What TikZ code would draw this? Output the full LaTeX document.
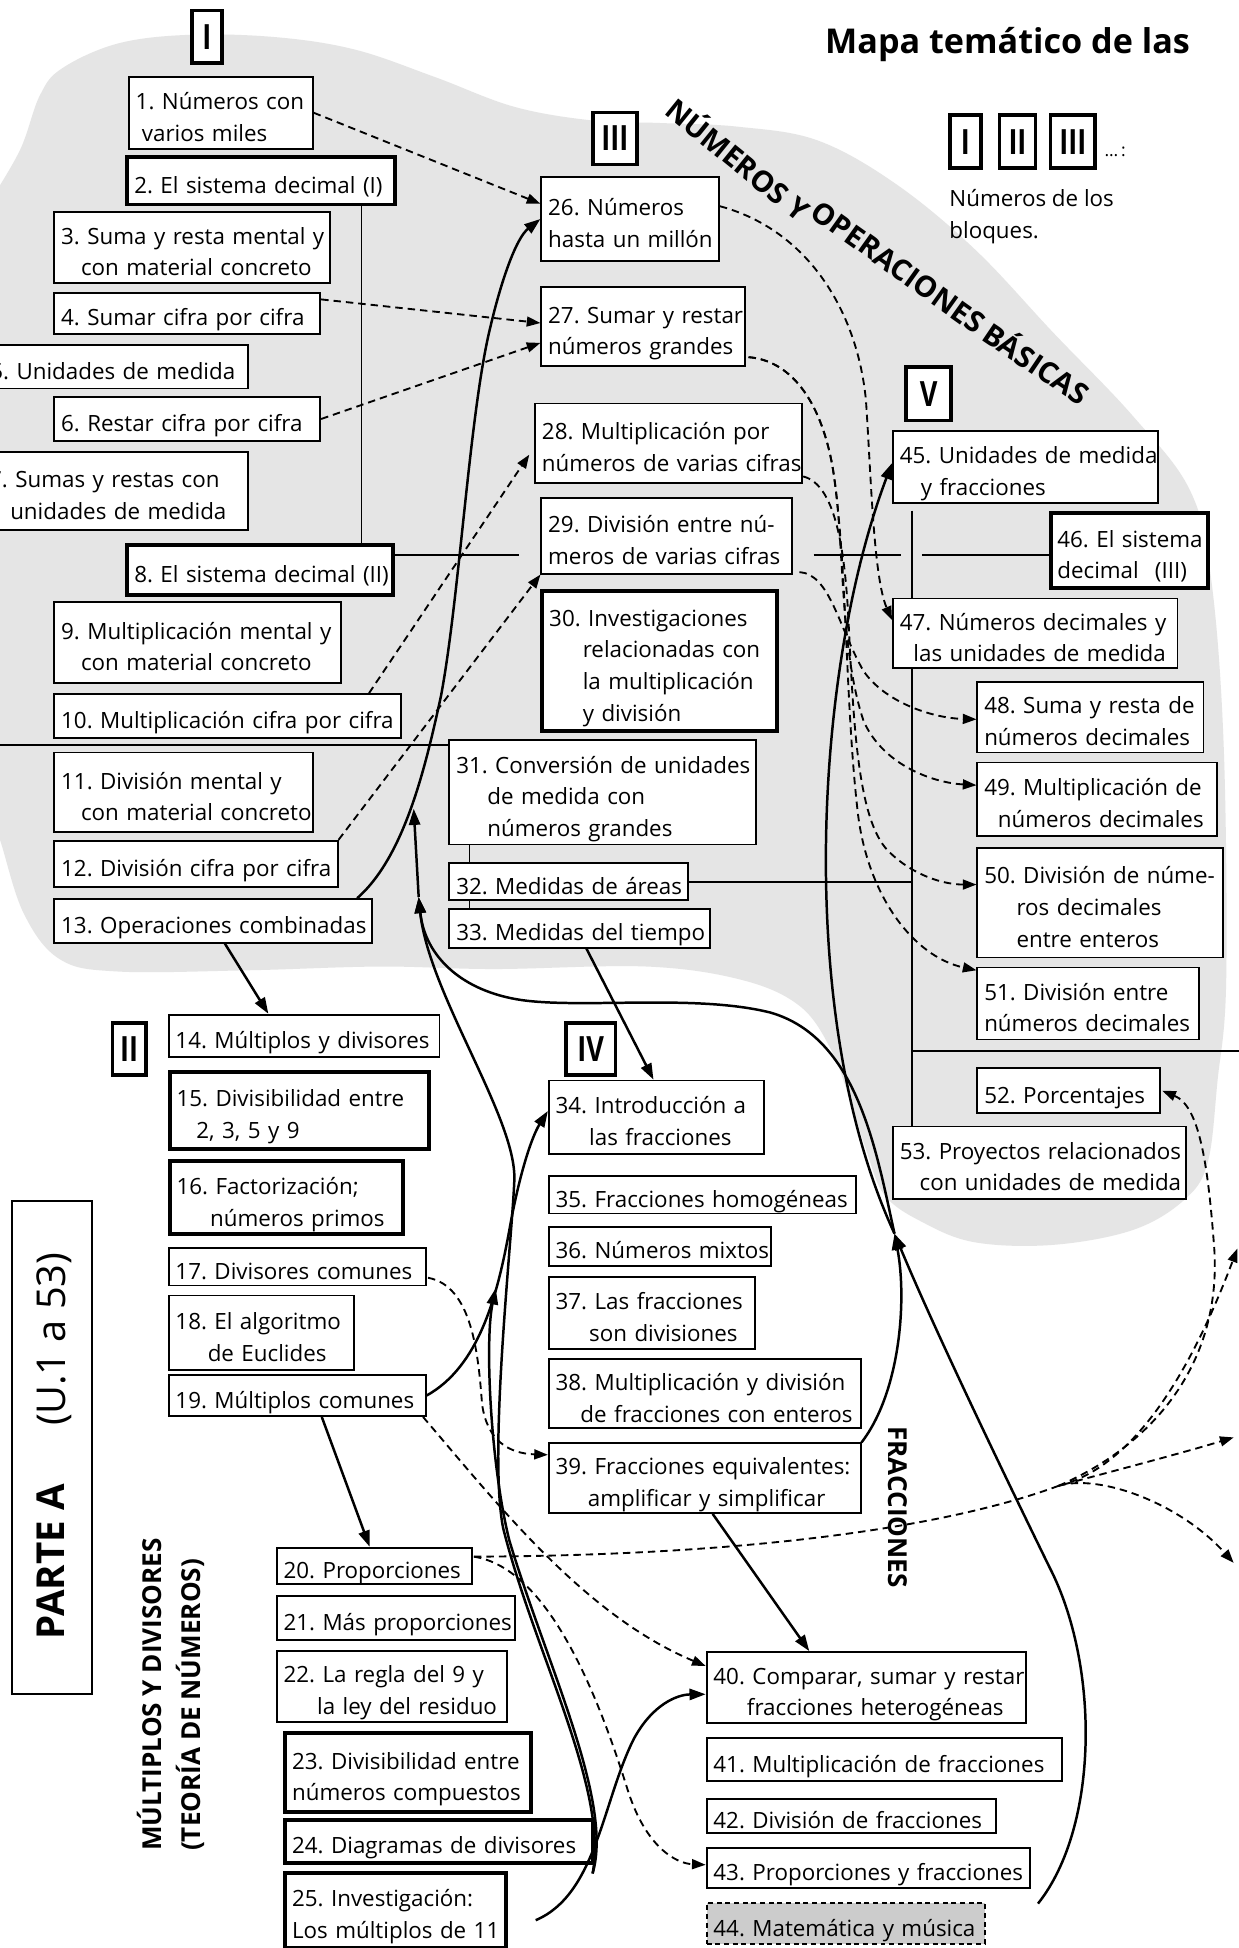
\documentclass[tikz,border=0pt]{standalone}
\usepackage{fontspec}
\setmainfont{Open Sans}
\usepackage{graphicx}
\usetikzlibrary{arrows.meta,calc}

\definecolor{blobgray}{gray}{0.9}
\definecolor{fillgray}{gray}{0.8}

\tikzset{
  tb/.style={draw, fill=white, line width=1.5pt, inner xsep=5.5pt, inner ysep=1pt,
             font=\fontsize{18}{25.5}\selectfont, align=left},
  thickbox/.style={line width=3.2pt},
  dashbox/.style={dash pattern=on 4pt off 3pt, fill=fillgray},
  blk/.style={draw, fill=white, line width=3pt, inner sep=0pt,
              font=\bfseries\fontsize{28}{28}\selectfont},
  band/.style={inner sep=0pt, font=\bfseries\fontsize{23.5}{23.5}\selectfont},
  solidarr/.style={line width=2pt, -{Triangle[length=13pt,width=9pt]}},
  dasharr/.style={line width=1.5pt, dash pattern=on 6pt off 4pt,
                  -{Triangle[length=11pt,width=8pt]}},
  treeline/.style={line width=1.4pt},
}

% text box: [style]{name}{x1}{y1}{x2}{y2}{lines}
\newcommand{\tbox}[7][]{%
  \pgfmathsetmacro{\tbW}{(#5)-(#3)}%
  \pgfmathsetmacro{\tbH}{(#6)-(#4)}%
  \pgfmathsetmacro{\tbT}{(#5)-(#3)-11}%
  \node[tb,#1,anchor=north west,minimum width=\tbW pt,minimum height=\tbH pt,text width=\tbT pt]
    (#2) at (#3,#4)
    {\raisebox{-5pt}[\height][\depth]{\begin{tabular}{@{}l@{}}#7\end{tabular}}};%
}
% block number label: {name}{x1}{y1}{x2}{y2}{numeral}
\newcommand{\blabel}[6]{%
  \pgfmathsetmacro{\tbW}{(#4)-(#2)}%
  \pgfmathsetmacro{\tbH}{(#5)-(#3)}%
  \node[blk,anchor=north west,minimum width=\tbW pt,minimum height=\tbH pt]
    (#1) at (#2,#3) {\scalebox{0.78}[1]{#6}};%
}

\begin{document}
\frenchspacing
\begin{tikzpicture}[x=1pt,y=-1pt]
\useasboundingbox (0,0) rectangle (997,1568);
\fill[white] (0,0) rectangle (997,1568);

% shaded area of the first block group
\fill[blobgray] plot[smooth, tension=0.6] coordinates {
  (-10,165) (16,121) (32,77) (50,55) (95,35) (153,28) (223,30) (286,40)
  (350,62) (414,86) (477,97) (531,99) (594,102) (658,113) (721,148)
  (785,201) (848,268) (912,335) (958,395) (975,467) (985,601) (987,789)
  (980,870) (972,936) (953,966) (912,990) (848,1002) (785,1000) (743,984)
  (712,962) (697,925) (684,885) (669,845) (644,810) (598,789) (521,778)
  (398,780) (306,778) (200,781) (95,782) (48,772) (19,735) (0,676) (-10,650)}
  -- (-30,650) -- (-30,165) -- cycle;

% titles and legend
\node[anchor=base west, inner sep=0, font=\bfseries\fontsize{27.5}{32}\selectfont] (title) at (664,43) {Mapa temático de las};
\node[band, rotate=-39] (band1) at (595,127) {NÚMEROS Y};
\node[band, rotate=-35.5] (band2) at (723,215) {OPERACIONES};
\node[band, rotate=-34] (band3) at (835,291) {BÁSICAS};
\blabel{gI}{763}{91}{788}{134}{I}
\blabel{gII}{803}{91}{832}{134}{II}
\blabel{gIII}{844}{91}{880}{134}{III}
\node[anchor=base west, inner sep=0, font=\fontsize{14}{14}\selectfont] (gdots) at (889,126) {…\,:};
\node[anchor=base west, inner sep=0, font=\fontsize{18}{25.5}\selectfont] (gtxt1) at (764,166) {Números de los};
\node[anchor=base west, inner sep=0, font=\fontsize{18}{25.5}\selectfont] (gtxt2) at (764,192) {bloques.};

% part label
\node[draw, line width=1.5pt, anchor=north west, minimum width=64pt, minimum height=397pt, inner sep=0] (pbox) at (9,966) {};
\node[rotate=90, inner sep=0, font=\bfseries\fontsize{31}{31}\selectfont] (parte) at (41,1257) {PARTE A};
\node[rotate=90, inner sep=0, font=\fontsize{32}{32}\selectfont] (urange) at (44,1078) {(U.1 a 53)};
\node[rotate=90, anchor=base west, inner sep=0, font=\bfseries\fontsize{21}{21}\selectfont] (multt) at (130,1490) {MÚLTIPLOS Y DIVISORES};
\node[rotate=90, anchor=base west, inner sep=0, font=\bfseries\fontsize{21}{21}\selectfont] (teot) at (161,1490) {(TEORÍA DE NÚMEROS)};
\node[rotate=-90, inner sep=0, font=\bfseries\fontsize{21}{21}\selectfont] (fract) at (723,1213) {FRACCIONES};

% free points of the connectors
\coordinate (m1) at (337,722);
\coordinate (m2) at (333,651);
\coordinate (m3) at (399,1037);
\coordinate (m4) at (720,993);
\coordinate (b1) at (477,1508);
\coordinate (j1) at (852,1196);
\coordinate (e1) at (993,1157);
\coordinate (e2) at (996,1005);
\coordinate (e3) at (993,1258);
\coordinate (x1) at (418,447);
\coordinate (x2) at (655,447);
\coordinate (x3) at (725,447);
\coordinate (x4) at (742,447);
\coordinate (x5) at (-5,599.5);
\coordinate (v1) at (734,846);
\coordinate (x6) at (1000,846);

% structure lines
\draw[treeline] (291,163) -- (291,437);
\draw[treeline] (315,447) -- (x1);
\draw[treeline] (x2) -- (x3);
\draw[treeline] (x4) -- (844,447);
\draw[treeline] (x5) -- (361,599.5);
\draw[treeline] (378,679) -- (378,731);
\draw[treeline] (734,411) -- (734,906);
\draw[treeline] (553,710) -- (734,710);
\draw[treeline] (v1) -- (x6);

% boxes
\tbox{n1}{103}{61}{251}{119}{1. Números con\\\hspace*{5pt}varios miles}
\tbox[thickbox]{n2}{101}{125}{316}{163}{2. El sistema decimal (I)}
\tbox{n3}{43}{170}{265}{227}{3. Suma y resta mental y\\\hspace*{16pt}con material concreto}
\tbox{n4}{43}{235}{257}{268}{4. Sumar cifra por cifra}
\tbox{n5}{-14}{277}{199}{312}{5. Unidades de medida}
\tbox{n6}{43}{319}{257}{354}{6. Restar cifra por cifra}
\tbox{n7}{-15}{363}{199}{426}{7. Sumas y restas con\\\hspace*{17pt}unidades de medida}
\tbox[thickbox]{n8}{101}{437}{315}{477}{8. El sistema decimal (II)}
\tbox{n9}{43}{484}{274}{549}{9. Multiplicación mental y\\\hspace*{16pt}con material concreto}
\tbox{n10}{43}{558}{322}{593}{10. Multiplicación cifra por cifra}
\tbox{n11}{43}{605}{251}{669}{11. División mental y\\\hspace*{16pt}con material concreto}
\tbox{n12}{43}{676}{271}{713}{12. División cifra por cifra}
\tbox{n13}{43}{723}{299}{758}{13. Operaciones combinadas}
\tbox{n14}{135}{816}{353}{850}{14. Múltiplos y divisores}
\tbox[thickbox]{n15}{135}{861}{344}{923}{15. Divisibilidad entre\\\hspace*{16pt}2, 3, 5 y 9}
\tbox[thickbox]{n16}{135}{933}{323}{992}{16. Factorización;\\\hspace*{27pt}números primos}
\tbox{n17}{135}{1004}{342}{1034}{17. Divisores comunes}
\tbox{n18}{135}{1042}{284}{1102}{18. El algoritmo\\\hspace*{26pt}de Euclides}
\tbox{n19}{135}{1106}{342}{1139}{19. Múltiplos comunes}
\tbox{n20}{222}{1245}{379}{1274}{20. Proporciones}
\tbox{n21}{222}{1284}{414}{1319}{21. Más proporciones}
\tbox{n22}{222}{1328}{407}{1385}{22. La regla del 9 y\\\hspace*{27pt}la ley del residuo}
\tbox[thickbox]{n23}{228}{1393}{426}{1457}{23. Divisibilidad entre\\números compuestos}
\tbox[thickbox]{n24}{228}{1463}{476}{1498}{24. Diagramas de divisores}
\tbox[thickbox]{n25}{228}{1506}{406}{1566}{25. Investigación:\\Los múltiplos de 11}
\tbox{n26}{435}{142}{578}{209}{26. Números\\hasta un millón}
\tbox{n27}{435}{230}{599}{294}{27. Sumar y restar\\números grandes}
\tbox{n28}{430}{324}{645}{388}{28. Multiplicación por\\números de varias cifras}
\tbox{n29}{435}{400}{637}{461}{29. División entre nú-\\meros de varias cifras}
\tbox[thickbox]{n30}{435}{474}{624}{587}{30. Investigaciones\\\hspace*{27pt}relacionadas con\\\hspace*{27pt}la multiplicación\\\hspace*{27pt}y división}
\tbox{n31}{361}{595}{608}{679}{31. Conversión de unidades\\\hspace*{25pt}de medida con\\\hspace*{25pt}números grandes}
\tbox{n32}{361}{694}{553}{724}{32. Medidas de áreas}
\tbox{n33}{361}{731}{571}{762}{33. Medidas del tiempo}
\tbox{n34}{441}{869}{614}{928}{34. Introducción a\\\hspace*{27pt}las fracciones}
\tbox{n35}{441}{946}{688}{976}{35. Fracciones homogéneas}
\tbox{n36}{441}{987}{620}{1018}{36. Números mixtos}
\tbox{n37}{441}{1027}{607}{1085}{37. Las fracciones\\\hspace*{27pt}son divisiones}
\tbox{n38}{441}{1093}{692}{1149}{38. Multiplicación y división\\\hspace*{20pt}de fracciones con enteros}
\tbox{n39}{441}{1161}{692}{1217}{39. Fracciones equivalentes:\\\hspace*{26pt}amplificar y simplificar}
\tbox{n40}{568}{1329}{825}{1386}{40. Comparar, sumar y restar\\\hspace*{27pt}fracciones heterogéneas}
\tbox{n41}{568}{1398}{854}{1433}{41. Multiplicación de fracciones}
\tbox{n42}{568}{1447}{801}{1475}{42. División de fracciones}
\tbox{n43}{568}{1487}{828}{1519}{43. Proporciones y fracciones}
\tbox[dashbox]{n44}{568}{1531}{792}{1564}{44. Matemática y música}
\tbox{n45}{718}{346}{931}{404}{45. Unidades de medida\\\hspace*{17pt}y fracciones}
\tbox[thickbox]{n46}{844}{411}{971}{472}{46. El sistema\\decimal\hspace{13pt}(III)}
\tbox{n47}{718}{481}{947}{537}{47. Números decimales y\\\hspace*{11pt}las unidades de medida}
\tbox{n48}{786}{548}{968}{605}{48. Suma y resta de\\números decimales}
\tbox{n49}{786}{613}{979}{672}{49. Multiplicación de\\\hspace*{11pt}números decimales}
\tbox{n50}{786}{682}{984}{770}{50. División de núme-\\\hspace*{26pt}ros decimales\\\hspace*{26pt}entre enteros}
\tbox{n51}{786}{778}{964}{836}{51. División entre\\números decimales}
\tbox{n52}{786}{859}{933}{895}{52. Porcentajes}
\tbox{n53}{718}{906}{954}{964}{53. Proyectos relacionados\\\hspace*{16pt}con unidades de medida}

% block labels
\blabel{bI}{153}{7}{177}{49}{I}
\blabel{bIII}{476}{89}{511}{131}{III}
\blabel{bV}{728}{294}{764}{337}{V}
\blabel{bII}{89}{822}{116}{864}{II}
\blabel{bIV}{454}{822}{494}{864}{IV}

% dashed connectors
\draw[dasharr] (n1.east) -- ($(n26.north west)+(0,22)$);
\draw[dasharr] ($(n4.north east)+(0,6)$) -- ($(n27.north west)+(0,30)$);
\draw[dasharr] (n6.east) -- ($(n27.north west)+(0,46)$);
\draw[dasharr] ($(n10.north west)+(254,0)$) -- ($(n28.north west)+(-4,42)$);
\draw[dasharr] (n12.north east) -- (n29.south west);
\draw[dasharr] ($(n26.north east)+(0,24)$) .. controls (650,185) and (690,250) .. (697,322)
   .. controls (701,380) and (703,465) .. ($(n47.north west)+(0,18)$);
\draw[dasharr] ($(n27.south east)+(2,-8)$) .. controls (635,290) and (660,320) .. (670,375)
   .. controls (680,430) and (675,520) .. (695,580) .. controls (710,615) and (750,630) .. ($(n49.north west)+(0,19)$);
\draw[dasharr] ($(n27.south east)+(2,-8)$) .. controls (635,290) and (660,320) .. (670,375)
   .. controls (682,450) and (680,560) .. (690,650) .. controls (697,720) and (735,770) .. ($(n51.north west)+(0,3)$);
\draw[dasharr] ($(n28.south east)+(0,-6)$) .. controls (672,390) and (680,440) .. (683,500)
   .. controls (687,580) and (690,660) .. (715,685) .. controls (735,705) and (760,712) .. ($(n50.north west)+(0,30)$);
\draw[dasharr] ($(n29.south east)+(5,-2)$) .. controls (668,462) and (675,505) .. (695,540)
   .. controls (712,565) and (750,578) .. ($(n48.north west)+(0,31)$);
\draw[dasharr] ($(n17.south east)+(1,-7)$) .. controls (380,1035) and (385,1090) .. (388,1130)
   .. controls (392,1160) and (410,1170) .. ($(n39.north west)+(0,10)$);
\draw[dasharr] ($(n19.south east)+(-3,0)$) .. controls (400,1210) and (470,1300) .. ($(n40.north west)+(0,12)$);
\draw[dasharr] ($(n20.north east)+(1,8)$) .. controls (440,1262) and (480,1360) .. (505,1440)
   .. controls (520,1488) and (545,1500) .. ($(n43.north west)+(0,14)$);
\draw[dasharr] ($(n20.north east)+(1,8)$) .. controls (600,1252) and (760,1230) .. (j1)
   .. controls (900,1183) and (950,1170) .. (e1);
\draw[dasharr] (j1) .. controls (915,1180) and (960,1100) .. (e2);
\draw[dasharr] (j1) .. controls (885,1186) and (950,1210) .. (e3);
\draw[dasharr] (j1) .. controls (935,1160) and (985,1090) .. (977,1000)
   .. controls (972,935) and (965,890) .. ($(n52.north east)+(1,19)$);

% solid connectors
\draw[solidarr] ($(n13.south west)+(138,0)$) -- ($(n14.north west)+(81,0)$);
\draw[solidarr] ($(n33.south west)+(111,0)$) -- ($(n34.north west)+(85,0)$);
\draw[solidarr] ($(n19.south west)+(124,0)$) -- ($(n20.north west)+(75.5,0)$);
\draw[solidarr] ($(n39.south west)+(132.6,0)$) -- ($(n40.north west)+(83.4,0)$);
\draw[solidarr] ($(n13.north east)+(-13,0)$) .. controls (325,690) and (342,620) .. (355,560)
   .. controls (370,480) and (378,330) .. (395,262) .. controls (403,228) and (415,192) .. (n26.west);
\draw[solidarr] (m1) -- (m2);
\draw[solidarr] (b1) .. controls (490,1440) and (430,1330) .. (405,1230)
   .. controls (393,1170) and (412,1000) .. (414,950)
   .. controls (416,900) and (345,800) .. (m1);
\draw[solidarr] (b1) .. controls (494,1450) and (440,1340) .. (410,1240)
   .. controls (395,1180) and (390,1080) .. (m3);
\draw[solidarr] (n19.east) .. controls (385,1100) and (400,1045) .. (410,990)
   .. controls (418,945) and (428,915) .. ($(n34.west)+(0,-5)$);
\draw[solidarr] ($(n25.east)+(22,8)$) .. controls (480,1525) and (485,1450) .. (510,1400)
   .. controls (525,1372) and (545,1364) .. ($(n40.west)+(0,5.5)$);
\draw[solidarr] (n39.north east) .. controls (725,1120) and (730,1045) .. (m4);
\draw[solidarr] ($(n44.east)+(42,-16)$) .. controls (885,1470) and (885,1340) .. (845,1262)
   .. controls (800,1170) and (750,1065) .. (m4);
\draw[solidarr] (m4) .. controls (640,820) and (655,540) .. ($(n45.west)+(0,-3)$);
\draw[solidarr] (m4) .. controls (705,925) and (690,835) .. (620,815)
   .. controls (560,800) and (470,812) .. (420,805) .. controls (372,798) and (342,770) .. (m1);

\end{tikzpicture}
\end{document}
